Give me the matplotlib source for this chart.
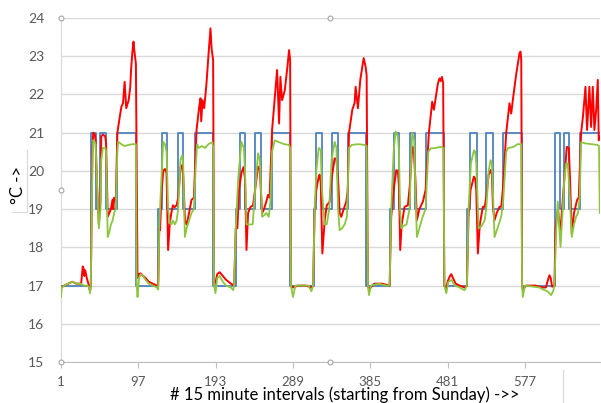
import numpy as np
import matplotlib
matplotlib.use("Agg")
import matplotlib.pyplot as plt

# x ticks: start of each day (15 minute intervals)
xticks = [1, 97, 193, 289, 385, 481, 577]
yticks = list(range(15, 25))

# setpoint (blue), drawn as steps: interval where the value starts
blue_x = [1, 38, 44, 50, 57, 70, 94,
          121, 126, 133, 146, 153, 167, 190,
          218, 223, 230, 242, 249, 263, 285,
          315, 318, 325, 337, 345, 357, 380,
          409, 414, 421, 434, 441, 454, 476,
          505, 509, 517, 529, 537, 550, 573,
          614, 620, 625, 632, 646, 670]
blue_y = [17, 21, 19, 21, 19, 21, 17,
          19, 21, 19, 21, 19, 21, 17,
          19, 21, 19, 21, 19, 21, 17,
          19, 21, 19, 21, 19, 21, 17,
          19, 21, 19, 21, 19, 21, 17,
          19, 21, 19, 21, 19, 21, 17,
          21, 19, 21, 19, 21, 21]

# measured temperature (red)
red_pts = [
    (1, 16.95), (5, 17.0), (10, 17.05), (15, 17.1), (20, 17.05), (26, 17.05), (28, 17.5), (29, 17.45),
    (30, 17.25), (31, 17.4), (33, 17.2), (35, 17.05), (37, 16.85), (38, 17.0), (40, 20.5), (41, 21.0),
    (43, 20.95), (44, 20.8), (46, 19.5), (48, 18.6), (50, 19.2), (51, 20.9), (53, 20.95), (56, 20.9),
    (57, 20.7), (59, 18.8), (61, 18.9), (63, 19.0), (65, 19.25), (66, 19.0), (67, 19.3), (69, 19.2),
    (71, 21.0), (74, 21.42), (76, 21.68), (78, 21.77), (80, 22.33), (82, 21.64), (85, 21.85), (87, 22.2),
    (88, 22.64), (89.5, 23.08), (91, 23.38), (92, 23.16), (93, 22.99), (94, 22.8), (96, 17.2), (98, 17.3),
    (100, 17.32), (103, 17.25), (106, 17.2), (110, 17.1), (115, 17.05), (120, 17.0),
    # Monday
    (121.7, 17.0), (123, 18.5), (124, 18.45), (126, 19.5), (128, 20.0), (130, 20.05), (132, 19.95),
    (134, 17.93), (136, 18.6), (138, 18.9), (140, 19.1), (142, 19.05), (144.5, 19.1), (146.5, 19.3),
    (149.5, 20.1), (151.5, 20.15), (152.7, 19.9), (155, 18.7), (157, 18.6), (160, 18.9), (163, 19.24),
    (166, 19.3), (169.3, 21.07), (172.6, 21.68), (174.2, 21.9), (175.1, 21.3), (176.7, 21.85),
    (178.8, 21.64), (181.7, 22.3), (184, 23.0), (186.6, 23.73), (188, 23.2), (189.9, 22.9), (191, 17.0),
    (193, 17.1), (195, 17.3), (198, 17.35), (200, 17.3), (206, 17.15), (212, 17.05), (216, 17.0),
    # Tuesday
    (218, 18.5), (220, 18.5), (222, 19.5), (225, 19.94), (227.5, 20.1), (229.5, 19.8), (231.3, 17.93),
    (233.3, 18.9), (236, 19.05), (239.5, 19.1), (242, 19.5), (245.7, 20.11), (247.8, 20.05),
    (250.7, 18.89), (253, 19.0), (256, 19.2), (258, 19.37), (260, 19.3), (263.1, 21.07), (266, 21.8),
    (269.3, 22.64), (271.8, 21.24), (273.4, 22.46), (275.5, 21.85), (278.8, 22.1), (282, 22.7),
    (284.2, 23.16), (285.5, 22.9), (286.5, 17.0), (289, 16.95), (295, 17.0), (305, 17.0), (312, 16.95),
    # Wednesday
    (314, 17.0), (316, 19.0), (318, 19.5), (321, 19.85), (322.2, 19.9), (323.5, 19.7), (325.5, 17.84),
    (328.4, 18.7), (331, 19.1), (334.6, 19.19), (337, 19.8), (340.8, 20.33), (343, 20.3), (345.5, 19.6),
    (347, 18.9), (349, 18.8), (352, 19.0), (355.3, 19.2), (357, 19.5), (358.6, 21.0), (362.7, 21.6),
    (365.6, 21.78), (366.8, 22.2), (369.7, 21.64), (372.6, 22.38), (376.8, 22.95), (379.2, 22.73),
    (380.5, 22.5), (382, 17.0), (383.4, 16.9), (390, 17.05), (400, 17.05), (408, 17.0),
    # Thursday
    (409, 17.0), (411, 18.8), (414, 19.5), (417.3, 20.02), (419.3, 20.0), (420.6, 19.6), (422.2, 17.93),
    (424, 18.6), (427.6, 19.06), (431.7, 19.1), (434, 19.6), (437.1, 20.63), (438.8, 20.6), (441, 19.8),
    (442.9, 18.71), (446, 19.0), (450.4, 19.2), (453.7, 19.5), (457.8, 21.0), (461.9, 21.81), (464, 21.6),
    (469, 22.29), (471, 22.42), (472.5, 22.35), (474, 22.46), (475.5, 22.3), (477, 17.0), (479.4, 16.9),
    (481, 17.1), (483.5, 17.23), (485.6, 17.3), (487.6, 17.2), (491, 17.05), (496, 17.0), (502, 16.95),
    # Friday
    (505, 17.0), (507, 18.8), (509.5, 19.5), (513.7, 19.85), (515.3, 19.8), (516.6, 19.5), (518.6, 17.84),
    (521, 18.6), (524.8, 19.06), (527, 19.06), (529, 19.3), (532, 19.9), (534.4, 20.02), (536, 19.9),
    (537.5, 19.0), (539.3, 18.71), (542, 18.9), (545.5, 19.06), (547.6, 19.06), (549.6, 19.5),
    (553.8, 21.0), (557.9, 21.77), (560, 21.5), (562, 21.85), (566, 22.5), (570.3, 23.08),
    (571.6, 23.12), (572.5, 22.9), (573.5, 17.0), (574.4, 16.9), (578.6, 17.0), (590, 17.0),
    # Saturday
    (599, 16.95), (603, 16.95), (605, 17.1), (607.5, 17.27), (609, 17.2), (610.8, 16.97), (613.7, 17.0),
    (615, 18.5), (618, 19.0), (621, 18.4), (625, 19.5), (629, 20.63), (631.5, 20.6), (633, 19.8),
    (635.2, 18.36), (638, 18.9), (641.8, 19.24), (643.9, 19.3), (646.8, 21.0), (649, 21.4), (652.2, 22.2),
    (654.2, 21.07), (657.1, 22.2), (659.2, 21.15), (661.3, 22.2), (663.3, 21.07), (665.5, 21.6),
    (667.5, 22.38), (668.7, 20.8), (670, 20.9),
]

# second temperature (green)
green_pts = [
    (1, 16.7), (2, 16.95), (5, 17.0), (10, 17.05), (15, 17.1), (20, 17.05), (25, 17.05), (30, 17.0),
    (34, 17.0), (36, 16.95), (37, 16.8), (38, 17.0), (40, 20.2), (41, 20.8), (43, 20.75), (44, 20.7),
    (46, 19.5), (48, 18.5), (50, 19.0), (51, 20.3), (53, 20.6), (56, 20.6), (57, 20.5), (59, 18.27),
    (61, 18.4), (63, 18.6), (65, 18.7), (67, 18.9), (69, 19.0), (71, 20.5), (72, 20.76), (76, 20.7),
    (80, 20.65), (85, 20.68), (90, 20.7), (94, 20.7), (95, 17.0), (96, 16.7), (98, 17.2), (100, 17.3),
    (103, 17.25), (106, 17.15), (110, 17.05), (115, 17.0), (120, 16.95),
    # Monday
    (121.7, 16.9), (123, 18.5), (125, 19.5), (127.9, 20.76), (130, 20.7), (132.1, 20.5), (134, 19.0),
    (136.2, 18.63), (138, 18.6), (140, 18.7), (142.4, 18.6), (144.5, 18.7), (146.5, 19.0), (149.4, 20.3),
    (151.5, 20.41), (152.7, 20.2), (154.8, 18.27), (157, 18.5), (160, 18.7), (163, 18.9), (166, 19.0),
    (168, 20.0), (170, 20.7), (172, 20.6), (176, 20.65), (180, 20.6), (184, 20.7), (189, 20.75),
    (190, 20.6), (191, 17.0), (192.8, 16.8), (195, 17.2), (198, 17.25), (202, 17.1), (206, 17.0),
    (212, 16.95), (214.8, 16.88), (216, 17.0),
    # Tuesday
    (218, 18.5), (221, 19.8), (225, 20.76), (228, 20.6), (229.5, 20.0), (231.3, 18.6), (235, 18.6),
    (239, 18.6), (242, 19.5), (245.7, 20.46), (247.8, 20.3), (250.7, 18.8), (254, 18.85), (256, 18.9),
    (259, 18.8), (261, 19.2), (263, 20.5), (266.4, 20.8), (272, 20.75), (278, 20.7), (284, 20.68),
    (285.5, 20.6), (286.5, 17.0), (289.1, 16.7), (292, 17.0), (300, 17.0), (308, 17.0), (311.9, 16.85),
    # Wednesday
    (314, 17.0), (316, 19.0), (318, 20.0), (321, 20.6), (323.5, 20.55), (325, 19.5), (328.4, 18.6),
    (331, 18.6), (334, 19.0), (337, 20.3), (340.8, 20.76), (343, 20.6), (345, 19.0), (347, 18.45),
    (350, 18.5), (353.2, 18.6), (356, 18.8), (358.6, 20.6), (362, 20.68), (370, 20.7), (378, 20.68),
    (380.5, 20.65), (382.1, 17.0), (383.4, 16.75), (386, 17.0), (395, 17.05), (405, 17.0),
    # Thursday
    (409, 17.0), (411, 19.0), (414, 20.5), (416.5, 21.03), (419.3, 20.9), (420.6, 20.5), (422, 19.0),
    (423.5, 18.5), (426, 18.55), (430, 18.6), (433.8, 19.0), (436, 20.5), (437.1, 21.0), (439.5, 20.8),
    (441, 19.5), (442.9, 18.27), (446, 18.5), (450, 18.8), (453.7, 19.0), (457, 20.5), (460, 20.59),
    (466, 20.6), (472, 20.63), (476, 20.6), (477, 17.0), (479.4, 16.8), (482, 17.1), (486, 17.15),
    (490, 17.0), (496, 16.95), (500, 16.9), (502.1, 16.88),
    # Friday
    (505, 17.0), (507, 19.0), (510, 20.2), (513.7, 20.54), (515.3, 20.5), (516.6, 20.2), (518.6, 19.0),
    (519.5, 18.5), (523, 18.55), (526.9, 18.7), (529, 19.0), (532, 20.0), (534.4, 20.28), (536, 20.2),
    (537.5, 19.3), (539.3, 18.27), (543, 18.5), (547.6, 18.8), (550, 19.2), (553.8, 20.5), (556, 20.6),
    (562, 20.62), (568, 20.7), (572.5, 20.7), (573.5, 17.0), (574.4, 16.7), (577, 17.0), (585, 16.98),
    (595, 16.95), (599.2, 16.9),
    # Saturday
    (605, 16.85), (609.6, 16.75), (612, 16.85), (613.7, 17.0), (616, 18.5), (617.8, 19.2), (621.2, 18.01),
    (624, 19.0), (626, 19.8), (628.2, 20.2), (630.2, 20.2), (632.3, 19.5), (635.2, 18.27), (638, 18.6),
    (640.6, 18.8), (643, 18.9), (645, 19.3), (646.8, 20.75), (652, 20.72), (660, 20.7), (667, 20.68),
    (669, 20.65), (670, 18.9),
]

red = np.array(red_pts)
green = np.array(green_pts)

plt.rcParams['font.family'] = ['Lato', 'DejaVu Sans']

fig = plt.figure(figsize=(6.01, 4.03), dpi=100)
ax = fig.add_axes([0.1015, 0.1017, 0.8965, 0.8536])

ax.step(blue_x, blue_y, where='post', color='#4F81BD', lw=1.3, zorder=3)
ax.plot(red[:, 0], red[:, 1], color='#FF0000', lw=1.4, zorder=4)
ax.plot(green[:, 0], green[:, 1], color='#8CC63F', lw=1.3, zorder=5)

ax.set_xlim(1, 670)
ax.set_ylim(15, 24)
ax.set_xticks(xticks)
ax.set_yticks(yticks)
ax.grid(axis='y', color='#D9D9D9', lw=1)
ax.set_axisbelow(True)

for s in ['top', 'right']:
    ax.spines[s].set_visible(False)
ax.spines['left'].set_color('#D9D9D9')
ax.spines['bottom'].set_color('#BFBFBF')
ax.tick_params(axis='y', length=0, pad=12, labelsize=10, labelcolor='#595959')
ax.tick_params(axis='x', length=4, color='#BFBFBF', pad=6, labelsize=9.5, labelcolor='#595959')

# axis titles sit in their own text boxes, not centred on the plot
fig.text(345 / 601, 1 - 395 / 403, '# 15 minute intervals (starting from Sunday) ->>',
         ha='center', va='center', fontsize=12)
fig.text(18 / 601, 1 - 185 / 403, '°C ->', rotation=90, ha='center', va='center', fontsize=12)

# selection handles of the chart frame
for hx, hy in [(0, 1), (0.5, 1), (0, 0.5), (0, 0), (0.5, 0)]:
    ax.plot(hx, hy, 'o', ms=3.5, mfc='white', mec='#A6A6A6', mew=0.8,
            transform=ax.transAxes, clip_on=False, zorder=6)

# leftover borders of the text boxes
fig.add_artist(plt.Line2D([27 / 601, 27 / 601], [1 - 150 / 403, 1 - 212 / 403], color='#D9D9D9', lw=0.8))
fig.add_artist(plt.Line2D([12 / 601, 27 / 601], [1 - 212 / 403, 1 - 212 / 403], color='#D9D9D9', lw=0.8))
fig.add_artist(plt.Line2D([563 / 601, 563 / 601], [1 - 370 / 403, 0], color='#D9D9D9', lw=0.8))

fig.savefig('out.png', dpi=100)
